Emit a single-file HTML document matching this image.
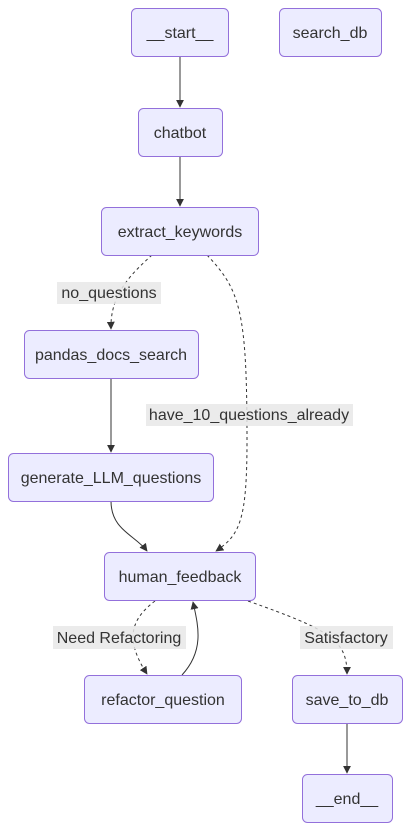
<!DOCTYPE html>
<html><head><meta charset="utf-8"><style>
html,body{margin:0;padding:0;background:#fff;}
svg text{font-family:"Liberation Sans",sans-serif;font-size:16px;fill:#333;}
</style></head><body>
<svg width="411" height="831" viewBox="0 0 411 831" xmlns="http://www.w3.org/2000/svg">
<defs>
<marker id="a" viewBox="0 0 10 10" refX="9" refY="5" markerWidth="8" markerHeight="8" orient="auto-start-reverse" markerUnits="userSpaceOnUse"><path d="M0,0 L10,5 L0,10 z" fill="#333"/></marker>
</defs>
<g fill="none" stroke="#333" stroke-width="1">
<path d="M180,56 L180,107" marker-end="url(#a)"/>
<path d="M180,156 L180,206" marker-end="url(#a)"/>
<path d="M152,255 C130,275 110,295 111,329" stroke-dasharray="3,3" marker-end="url(#a)"/>
<path d="M207,255 C240,290 247,310 247,440 C247,520 240,535 216,551" stroke-dasharray="3,3" marker-end="url(#a)"/>
<path d="M111,378 L111,452" marker-end="url(#a)"/>
<path d="M111,501 C111,530 135,535 147,551" marker-end="url(#a)"/>
<path d="M155,601 C130,620 125,640 147,674" stroke-dasharray="3,3" marker-end="url(#a)"/>
<path d="M182,675 C205,650 198,625 193,602" marker-end="url(#a)"/>
<path d="M248,601 C330,630 347,640 347,674" stroke-dasharray="3,3" marker-end="url(#a)"/>
<path d="M347,723 L347,773" marker-end="url(#a)"/>
</g>
<g fill="#ECECFF" stroke="#9370DB" stroke-width="1">
<rect x="131.5" y="8.5" width="97" height="48" rx="5"/>
<rect x="279.5" y="8.5" width="102" height="48" rx="5"/>
<rect x="138.5" y="108.5" width="84" height="48" rx="5"/>
<rect x="101.5" y="207.5" width="157" height="48" rx="5"/>
<rect x="24.5" y="330.5" width="174" height="48" rx="5"/>
<rect x="8.5" y="453.5" width="205" height="48" rx="5"/>
<rect x="104.5" y="552.5" width="151" height="48" rx="5"/>
<rect x="84.5" y="675.5" width="157" height="48" rx="5"/>
<rect x="292.5" y="675.5" width="110" height="48" rx="5"/>
<rect x="302.5" y="774.5" width="90" height="48" rx="5"/>
</g>
<g fill="rgba(232,232,232,0.85)">
<rect x="57" y="282" width="104" height="22"/>
<rect x="146" y="404" width="207" height="22"/>
<rect x="53" y="626" width="133" height="23"/>
<rect x="300" y="626" width="93" height="23"/>
</g>
<g text-anchor="middle">
<text x="180" y="38">__start__</text>
<text x="330" y="38">search_db</text>
<text x="180" y="138">chatbot</text>
<text x="180" y="237">extract_keywords</text>
<text x="111" y="360">pandas_docs_search</text>
<text x="111" y="483">generate_LLM_questions</text>
<text x="180" y="582">human_feedback</text>
<text x="163" y="705">refactor_question</text>
<text x="347" y="705">save_to_db</text>
<text x="347" y="804">__end__</text>
<text x="109" y="298">no_questions</text>
<text x="249" y="420">have_10_questions_already</text>
<text x="119" y="643">Need Refactoring</text>
<text x="346" y="643">Satisfactory</text>
</g>
</svg>
</body></html>
